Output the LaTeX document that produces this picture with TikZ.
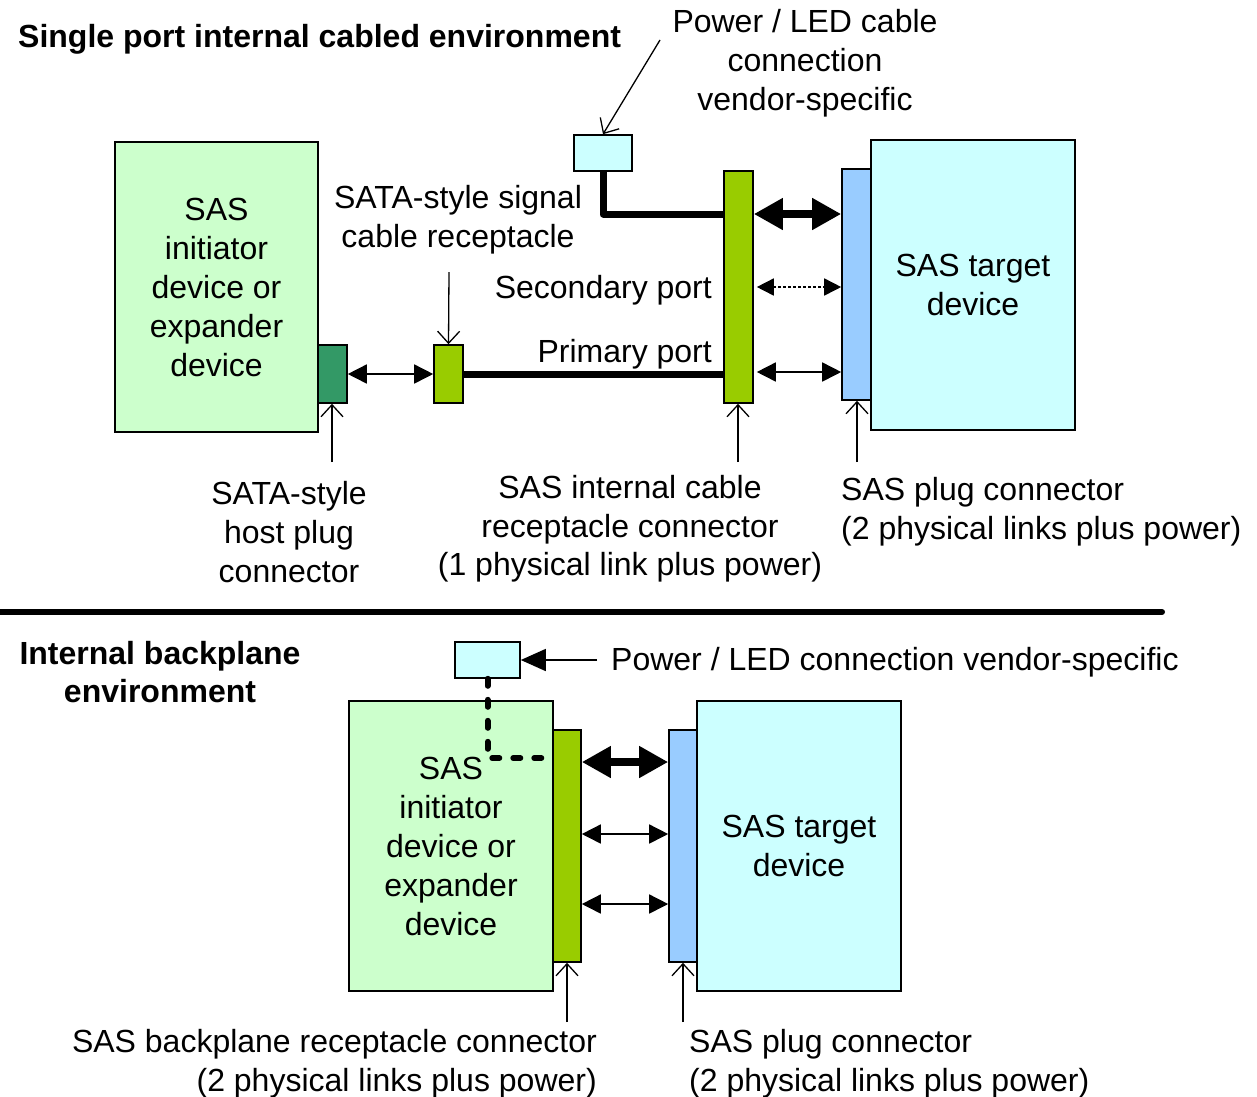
\documentclass[tikz,border=0pt]{standalone}
\usepackage{fontspec}
\setmainfont{Liberation Sans}
\usetikzlibrary{arrows.meta}
\definecolor{lgreen}{HTML}{CCFFCC}
\definecolor{dgreen}{HTML}{339966}
\definecolor{ygreen}{HTML}{99CC00}
\definecolor{lcyan}{HTML}{CCFFFF}
\definecolor{lblue}{HTML}{99CCFF}
\begin{document}
\begin{tikzpicture}[x=1pt,y=-1pt,
  font=\fontsize{32}{39}\selectfont,
  box/.style={draw, line width=1.6pt, inner sep=0pt, align=center},
  lbl/.style={inner sep=0pt, align=center},
  biarrow/.style={line width=1.6pt, {Triangle[length=19pt,width=19pt]}-{Triangle[length=19pt,width=19pt]}},
  bigarrow/.style={line width=8pt, {Triangle[length=29pt,width=30pt]}-{Triangle[length=29pt,width=30pt]}},
  pointer/.style={line width=1.3pt, -{Straight Barb[length=12pt,width=22pt,line width=1.3pt]}},
  cable/.style={line width=7pt, line join=round},
]
\useasboundingbox (0,0) rectangle (1257,1096);

% ---------------- top section ----------------
\node[lbl, anchor=west, font=\fontsize{32}{38}\selectfont\bfseries] (title1) at (18,39) {Single port internal cabled environment};

\node[box, fill=lgreen, minimum width=203pt, minimum height=290pt] (init1) at (216.5,287)
  {SAS\\initiator\\device or\\expander\\device};
\node[box, fill=dgreen, minimum width=29pt, minimum height=58pt] (hp) at (332.5,374) {};
\node[box, fill=ygreen, minimum width=29pt, minimum height=58pt] (rec) at (448.5,374) {};
\node[box, fill=ygreen, minimum width=29pt, minimum height=232pt] (cbl) at (738.5,287) {};
\node[box, fill=lcyan, minimum width=58pt, minimum height=36pt] (pwr1) at (603,153) {};
\node[box, fill=lcyan, minimum width=204pt, minimum height=290pt] (tgt1) at (973,285)
  {SAS target\\device};
\node[box, fill=lblue, minimum width=29pt, minimum height=231pt] (plug1) at (856.5,284.5) {};

\draw[cable] (pwr1.south) |- (cbl.west |- 0,214);
\draw[line width=7pt] (rec.east) -- (cbl.west |- rec.east);

\draw[biarrow] (hp.east) -- (rec.west);
\draw[bigarrow] (cbl.east |- 0,214) -- (plug1.west |- 0,214);
\draw[line width=1.6pt, dash pattern=on 2.5pt off 2.5pt, shorten <=3pt,
  {Triangle[length=17pt,width=17pt]}-{Triangle[length=17pt,width=17pt]}]
  (cbl.east |- 0,287) -- (plug1.west |- 0,287);
\draw[biarrow, shorten <=3pt] (cbl.east |- 0,372) -- (plug1.west |- 0,372);

\node[lbl] (siglbl) at (458,220) {SATA-style signal\\cable receptacle};
\node[lbl, anchor=east] (seclbl) at (712,290) {Secondary port};
\node[lbl, anchor=east] (primlbl) at (712,354) {Primary port};
\node[lbl] (pwrlbl1) at (805,63) {Power / LED cable\\connection\\vendor-specific};
\node[lbl] (hostlbl) at (289,532) {SATA-style\\host plug\\connector};
\node[lbl, font=\fontsize{32}{38.5}\selectfont] (cbllbl) at (630,529) {SAS internal cable\\receptacle connector\\(1 physical link plus power)};
\node[lbl, anchor=west, align=left] (pluglbl1) at (841,512) {SAS plug connector\\(2 physical links plus power)};

\coordinate (p1) at (449,272);
\coordinate (p2) at (660,40);
\coordinate (p3) at (332,462);
\coordinate (p4) at (738,462);
\coordinate (p5) at (857,462);
\draw[pointer] (p1) -- (rec.north);
\draw[pointer] (p2) -- (pwr1.north);
\draw[pointer] (p3) -- (p3 |- hp.south);
\draw[pointer] (p4) -- (p4 |- cbl.south);
\draw[pointer] (p5) -- (p5 |- plug1.south);

% ---------------- separator ----------------
\coordinate (s1) at (-5,612);
\coordinate (s2) at (1162,612);
\draw[line width=6pt, line cap=round] (s1) -- (s2);

% ---------------- bottom section ----------------
\node[lbl, font=\fontsize{32}{38}\selectfont\bfseries] (title2) at (160,672) {Internal backplane\\environment};

\node[box, fill=lgreen, minimum width=204pt, minimum height=290pt] (init2) at (451,846)
  {SAS\\initiator\\device or\\expander\\device};
\node[box, fill=ygreen, minimum width=28pt, minimum height=232pt] (bp) at (567,846) {};
\node[box, fill=lcyan, minimum width=65pt, minimum height=36pt] (pwr2) at (487.5,660) {};
\node[box, fill=lcyan, minimum width=204pt, minimum height=290pt] (tgt2) at (799,846)
  {SAS target\\device};
\node[box, fill=lblue, minimum width=28pt, minimum height=232pt] (plug2) at (683,846) {};

\draw[line width=6pt, line cap=round, dash pattern=on 7pt off 14pt] (pwr2.south) |- (bp.west |- 0,758);

\draw[bigarrow] (bp.east |- 0,762) -- (plug2.west |- 0,762);
\draw[biarrow] (bp.east |- 0,834) -- (plug2.west |- 0,834);
\draw[biarrow] (bp.east |- 0,904) -- (plug2.west |- 0,904);

\node[lbl, anchor=west] (pwrlbl2) at (611,662) {Power / LED connection vendor-specific};
\coordinate (q1) at (597,660);
\draw[line width=1.6pt, -{Triangle[length=25pt,width=22pt]}] (q1) -- (pwr2.east);

\node[lbl, anchor=east, align=right] (bplbl) at (597,1064) {SAS backplane receptacle connector\\(2 physical links plus power)};
\node[lbl, anchor=west, align=left] (pluglbl2) at (689,1064) {SAS plug connector\\(2 physical links plus power)};

\coordinate (q2) at (567,1022);
\coordinate (q3) at (683,1022);
\draw[pointer] (q2) -- (bp.south);
\draw[pointer] (q3) -- (plug2.south);
\end{tikzpicture}
\end{document}
